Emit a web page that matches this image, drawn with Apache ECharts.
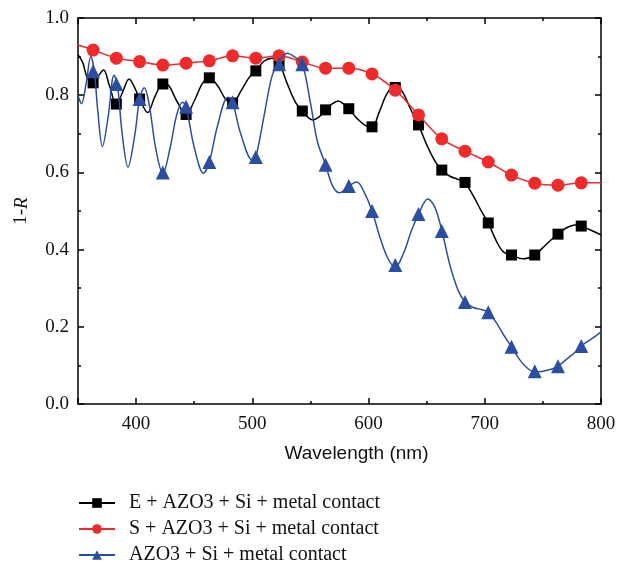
<!DOCTYPE html>
<html>
<head>
<meta charset="utf-8">
<script src="https://cdn.jsdelivr.net/npm/echarts@6/dist/echarts.min.js"></script>
<style>html,body{margin:0;padding:0;background:#fff;}#c{width:619px;height:564px;}</style>
</head>
<body>
<div id="c"></div>
<script>
// Marker wavelengths (nm)
const markerWl = [363, 383, 403, 423, 443, 463, 483, 503, 523, 543, 563, 583, 603, 623, 643, 663, 683, 703, 723, 743, 763, 783];
const blackMarkers = [0.832, 0.777, 0.790, 0.829, 0.750, 0.845, 0.780, 0.863, 0.883, 0.759, 0.762, 0.765, 0.718, 0.820, 0.723, 0.606, 0.574, 0.469, 0.386, 0.386, 0.440, 0.461];
const redMarkers = [0.917, 0.896, 0.887, 0.878, 0.883, 0.889, 0.902, 0.896, 0.902, 0.886, 0.870, 0.870, 0.855, 0.813, 0.749, 0.687, 0.655, 0.627, 0.593, 0.572, 0.567, 0.573];
const blueMarkers = [0.862, 0.829, 0.790, 0.600, 0.770, 0.627, 0.782, 0.640, 0.880, 0.880, 0.620, 0.565, 0.500, 0.360, 0.492, 0.448, 0.264, 0.238, 0.148, 0.085, 0.098, 0.150];

// Continuous curves
const blackCurveWl = [350, 354, 358, 363, 368, 372, 377, 383, 388, 394, 399, 403, 410, 416, 423, 428, 435, 443, 450, 457, 463, 470, 477, 483, 490, 497, 503, 510, 517, 523, 530, 537, 543, 552, 558, 563, 568, 574, 579, 583, 590, 597, 603, 609, 616, 623, 629, 636, 643, 650, 657, 663, 670, 677, 683, 690, 697, 703, 710, 716, 723, 733, 743, 750, 757, 763, 770, 778, 783, 790, 800];
const blackCurve = [0.905, 0.885, 0.845, 0.832, 0.852, 0.865, 0.825, 0.777, 0.805, 0.842, 0.818, 0.790, 0.755, 0.795, 0.829, 0.825, 0.785, 0.750, 0.785, 0.830, 0.845, 0.825, 0.790, 0.780, 0.810, 0.845, 0.863, 0.888, 0.896, 0.883, 0.830, 0.782, 0.759, 0.736, 0.745, 0.762, 0.776, 0.785, 0.776, 0.765, 0.740, 0.722, 0.718, 0.755, 0.805, 0.826, 0.810, 0.765, 0.723, 0.672, 0.630, 0.606, 0.590, 0.582, 0.572, 0.540, 0.500, 0.469, 0.422, 0.394, 0.386, 0.376, 0.386, 0.405, 0.425, 0.440, 0.456, 0.464, 0.461, 0.452, 0.438];

const redCurveWl = [350, 363, 383, 403, 423, 443, 463, 483, 503, 523, 543, 563, 583, 603, 623, 643, 663, 683, 703, 723, 743, 763, 783, 800];
const redCurve = [0.930, 0.917, 0.896, 0.887, 0.878, 0.883, 0.889, 0.902, 0.896, 0.902, 0.886, 0.870, 0.870, 0.855, 0.813, 0.749, 0.687, 0.655, 0.627, 0.593, 0.572, 0.567, 0.573, 0.573];

const blueCurveWl = [350, 353, 357, 361, 364, 367, 371, 376, 381, 384, 388, 393, 399, 403, 407, 411, 417, 423, 429, 435, 440, 443, 450, 458, 463, 470, 479, 483, 490, 500, 503, 510, 517, 523, 530, 536, 543, 550, 556, 563, 569, 575, 583, 590, 596, 603, 610, 617, 623, 630, 637, 643, 651, 657, 663, 670, 677, 683, 690, 697, 703, 710, 716, 723, 730, 737, 743, 750, 757, 763, 770, 777, 783, 790, 797, 800];
const blueCurve = [0.800, 0.778, 0.830, 0.900, 0.862, 0.760, 0.667, 0.745, 0.852, 0.825, 0.700, 0.614, 0.700, 0.790, 0.819, 0.780, 0.660, 0.597, 0.660, 0.750, 0.782, 0.770, 0.665, 0.598, 0.627, 0.720, 0.795, 0.782, 0.700, 0.632, 0.640, 0.745, 0.850, 0.885, 0.909, 0.900, 0.880, 0.780, 0.680, 0.620, 0.565, 0.547, 0.565, 0.575, 0.550, 0.500, 0.430, 0.375, 0.355, 0.390, 0.450, 0.492, 0.531, 0.510, 0.450, 0.360, 0.295, 0.264, 0.250, 0.245, 0.238, 0.210, 0.180, 0.148, 0.115, 0.092, 0.083, 0.085, 0.090, 0.098, 0.115, 0.132, 0.150, 0.165, 0.180, 0.187];

const xTicks = [400, 500, 600, 700, 800];
const yTicks = [0.0, 0.2, 0.4, 0.6, 0.8, 1.0];
const seriesNames = ['E + AZO3 + Si + metal contact', 'S + AZO3 + Si + metal contact', 'AZO3 + Si + metal contact'];

const colors = ['#000000', '#ee2a2a', '#2c4ea2'];
const symbols = ['rect', 'circle', 'triangle'];
const symSizes = [11, 13, 14];

const pair = (xs, ys) => xs.map((x, i) => [x, ys[i]]);
const curves = [pair(blackCurveWl, blackCurve), pair(redCurveWl, redCurve), pair(blueCurveWl, blueCurve)];
const markers = [pair(markerWl, blackMarkers), pair(markerWl, redMarkers), pair(markerWl, blueMarkers)];

const serifFont = '"Liberation Serif", "DejaVu Serif", serif';
const sansFont = '"Liberation Sans", Arial, sans-serif';
const axisLineStyle = { color: '#000', width: 1.5 };

const series = [];
for (let i = 0; i < 3; i++) {
  series.push({
    name: seriesNames[i], type: 'line', data: curves[i], smooth: 0.35,
    symbol: symbols[i], symbolSize: symSizes[i], showSymbol: false,
    lineStyle: { color: colors[i], width: 1.5 }, itemStyle: { color: colors[i] },
    z: 2 + i * 2, silent: true
  });
  series.push({
    name: seriesNames[i], type: 'scatter', data: markers[i],
    symbol: symbols[i], symbolSize: symSizes[i],
    itemStyle: { color: colors[i], opacity: 1 }, z: 3 + i * 2, silent: true
  });
}

const chart = echarts.init(document.getElementById('c'), null, { renderer: 'canvas' });
chart.setOption({
  animation: false,
  backgroundColor: '#fff',
  grid: { left: 78, right: 18, top: 18, bottom: 160, containLabel: false },
  legend: {
    data: seriesNames, orient: 'vertical', left: 78, top: 493, padding: 0, height: 80,
    itemWidth: 36, itemHeight: 12, itemGap: 6,
    textStyle: { fontFamily: serifFont, fontSize: 20, color: '#111', padding: [0, 0, 0, 9] }
  },
  xAxis: [
    { type: 'value', min: 350, max: 800, position: 'bottom',
      name: 'Wavelength (nm)', nameLocation: 'middle', nameGap: 40,
      nameTextStyle: { fontFamily: sansFont, fontSize: 19, color: '#111', padding: [0, 0, 0, 34] },
      axisLine: { show: true, onZero: false, lineStyle: axisLineStyle },
      axisTick: { show: true, inside: true, length: 6, lineStyle: axisLineStyle },
      axisLabel: { fontFamily: serifFont, fontSize: 19, color: '#111', margin: 11,
        formatter: v => xTicks.includes(v) ? String(v) : '' },
      splitLine: { show: false } },
    { type: 'value', min: 350, max: 800, interval: 50, position: 'bottom',
      axisLine: { show: false, onZero: false }, axisTick: { show: true, inside: true, length: 3, lineStyle: axisLineStyle },
      axisLabel: { show: false }, splitLine: { show: false } },
    { type: 'value', min: 350, max: 800, position: 'top',
      axisLine: { show: true, onZero: false, lineStyle: axisLineStyle },
      axisTick: { show: true, inside: true, length: 6, lineStyle: axisLineStyle },
      axisLabel: { show: false }, splitLine: { show: false } },
    { type: 'value', min: 350, max: 800, interval: 50, position: 'top',
      axisLine: { show: false, onZero: false }, axisTick: { show: true, inside: true, length: 3, lineStyle: axisLineStyle },
      axisLabel: { show: false }, splitLine: { show: false } }
  ],
  yAxis: [
    { type: 'value', min: 0, max: 1, interval: 0.2, position: 'left',
      name: '{a|1-}{b|R}', nameLocation: 'middle', nameGap: 47, nameRotate: 90,
      nameTextStyle: { rich: {
        a: { fontFamily: serifFont, fontSize: 19, color: '#111' },
        b: { fontFamily: serifFont, fontSize: 19, fontStyle: 'italic', color: '#111' } } },
      axisLine: { show: true, onZero: false, lineStyle: axisLineStyle },
      axisTick: { show: true, inside: true, length: 6, lineStyle: axisLineStyle },
      minorTick: { show: true, splitNumber: 2, length: 3, lineStyle: axisLineStyle },
      axisLabel: { fontFamily: serifFont, fontSize: 19, color: '#111', margin: 9,
        formatter: v => yTicks.includes(Math.round(v * 10) / 10) ? v.toFixed(1) : '' },
      splitLine: { show: false } },
    { type: 'value', min: 0, max: 1, interval: 0.2, position: 'right',
      axisLine: { show: true, onZero: false, lineStyle: axisLineStyle },
      axisTick: { show: true, inside: true, length: 6, lineStyle: axisLineStyle },
      minorTick: { show: true, splitNumber: 2, length: 3, lineStyle: axisLineStyle },
      axisLabel: { show: false }, splitLine: { show: false } }
  ],
  series: series
});
</script>
</body>
</html>
